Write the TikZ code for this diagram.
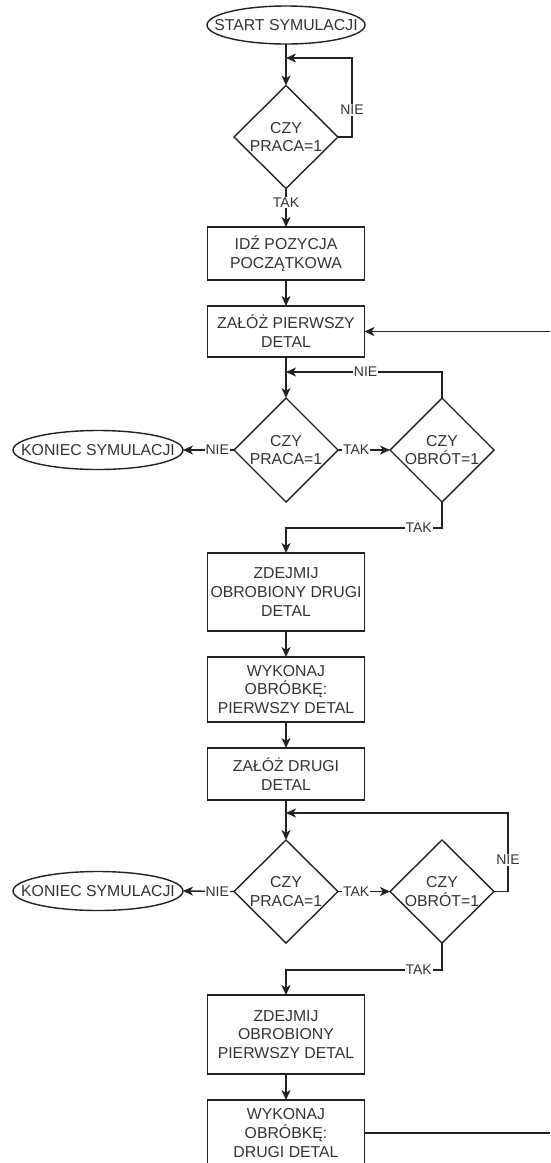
\documentclass[tikz,border=0pt]{standalone}
\usepackage{fontspec}
\setmainfont{Liberation Sans}
\usetikzlibrary{shapes.geometric,arrows.meta}
\definecolor{linec}{HTML}{222222}
\definecolor{txtc}{HTML}{333333}
\tikzset{
  base/.style={draw=linec, line width=1.4pt, inner sep=0pt, outer sep=0pt, text=txtc,
    font=\fontsize{15.8}{18.8}\selectfont, align=center},
  procbox/.style={base, rectangle, minimum width=157pt},
  decision/.style={base, diamond, minimum width=104pt, minimum height=104pt},
  terminal/.style={base, ellipse},
  inlabel/.style={text=txtc, font=\fontsize{15.8}{18.8}\selectfont, align=center, inner sep=0pt},
  flow/.style={draw=linec, line width=1.4pt, -{Stealth[length=10pt,width=9pt,inset=2.8pt]}},
  plain/.style={draw=linec, line width=1.4pt},
  elabel/.style={fill=white, inner sep=1pt, text=txtc, font=\fontsize{14}{16}\selectfont},
}
\begin{document}
\begin{tikzpicture}[x=1pt,y=-1pt]
\useasboundingbox (0,0) rectangle (550,1163);
\clip (0,0) rectangle (550,1163);
\fill[white] (0,0) rectangle (550,1163);

% nodes
\node[terminal, minimum width=158pt, minimum height=38pt, label={[inlabel]center:START SYMULACJI}] (start) at (286,25) {};
\node[decision, minimum height=103pt, label={[inlabel]center:CZY\\PRACA=1}] (d1) at (286,137) {};
\node[procbox, minimum height=53pt] (b1) at (286,253.5) {IDŹ POZYCJA\\POCZĄTKOWA};
\node[procbox, minimum height=51pt] (b2) at (286,331.5) {ZAŁÓŻ PIERWSZY\\DETAL};
\node[decision, label={[inlabel]center:CZY\\PRACA=1}] (d2) at (286,450) {};
\node[decision, label={[inlabel]center:CZY\\OBRÓT=1}] (d3) at (442,450) {};
\node[terminal, minimum width=170pt, minimum height=39pt, label={[inlabel]center:KONIEC SYMULACJI}] (e1) at (98,450) {};
\node[procbox, minimum height=78pt] (b3) at (286,592) {ZDEJMIJ\\OBROBIONY DRUGI\\DETAL};
\node[procbox, minimum height=65pt] (b4) at (286,689.5) {WYKONAJ\\OBRÓBKĘ:\\PIERWSZY DETAL};
\node[procbox, minimum height=52pt] (b5) at (286,774) {ZAŁÓŻ DRUGI\\DETAL};
\node[decision, minimum height=103pt, label={[inlabel]center:CZY\\PRACA=1}] (d4) at (286,891.5) {};
\node[decision, minimum height=103pt, label={[inlabel]center:CZY\\OBRÓT=1}] (d5) at (442,891.5) {};
\node[terminal, minimum width=170pt, minimum height=39pt, label={[inlabel]center:KONIEC SYMULACJI}] (e2) at (98,891) {};
\node[procbox, minimum height=79pt] (b6) at (286,1034.5) {ZDEJMIJ\\OBROBIONY\\PIERWSZY DETAL};
\node[procbox, minimum height=66pt] (b7) at (286,1133) {WYKONAJ\\OBRÓBKĘ:\\DRUGI DETAL};

% junction coordinates
\coordinate (j1) at (286,58);
\coordinate (j2) at (286,372);
\coordinate (j4) at (286,813);
\coordinate (r1) at (550,331.5);
\coordinate (r2) at (550,1133);

% connectors
\draw[flow] (start) -- (d1);
\draw[flow] (d1.east) -- ++(14,0) |- node[elabel,pos=0.17]{NIE} (j1);
\draw[flow] (d1.south) -- node[elabel,pos=0.36]{TAK} (b1.north);
\draw[flow] (b1) -- (b2);
\draw[flow] (r1) -- (b2.east);
\draw[flow] (b2) -- (d2);
\draw[flow] (d3.north) |- node[elabel,pos=0.745]{NIE} (j2);
\draw[flow] (d2.west) -- node[elabel,pos=0.33]{NIE} (e1.east);
\draw[flow] (d2.east) -- node[elabel,pos=0.35]{TAK} (d3.west);
\draw[flow] (d3.south) -- ++(0,26) -| node[elabel,pos=0.075]{TAK} (b3.north);
\draw[flow] (b3) -- (b4);
\draw[flow] (b4) -- (b5);
\draw[flow] (b5) -- (d4);
\draw[flow] (d5.east) -- ++(14,0) |- node[elabel,pos=0.2]{NIE} (j4);
\draw[flow] (d4.west) -- node[elabel,pos=0.33]{NIE} (e2.east);
\draw[flow] (d4.east) -- node[elabel,pos=0.35]{TAK} (d5.west);
\draw[flow] (d5.south) -- ++(0,27) -| node[elabel,pos=0.075]{TAK} (b6.north);
\draw[flow] (b6) -- (b7);
\draw[plain] (b7.east) -- (r2);
\end{tikzpicture}
\end{document}
